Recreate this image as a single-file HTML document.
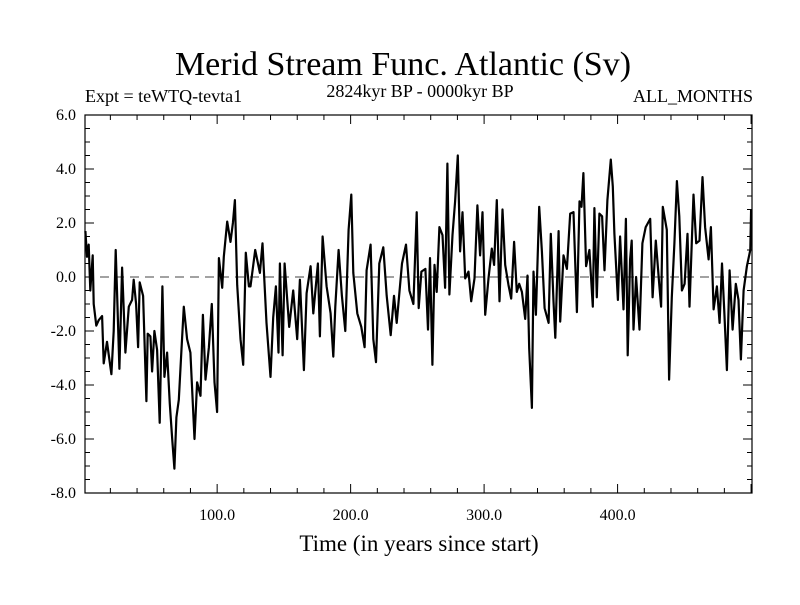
<!DOCTYPE html>
<html><head><meta charset="utf-8"><style>
body{margin:0;background:#fff}
svg text{font-family:"Liberation Serif",serif;fill:#000}
</style></head><body>
<svg id="chart" width="800" height="600">
<text x="403" y="75" font-size="34" text-anchor="middle">Merid Stream Func. Atlantic (Sv)</text>
<text x="85" y="102" font-size="18">Expt = teWTQ-tevta1</text>
<text x="420" y="97" font-size="18" text-anchor="middle">2824kyr BP - 0000kyr BP</text>
<text x="753" y="102" font-size="18" text-anchor="end">ALL_MONTHS</text>
<text x="419" y="551" font-size="23" text-anchor="middle">Time (in years since start)</text>
<g id="axes"></g>
<g id="series"></g>
</svg>
<script>
const years=[1.3,2.5,3.8,5,6.8,7.5,9.5,11.3,13.8,15,17.5,18.8,20.8,22.5,24,25,26.8,28.8,31.3,33.8,36.3,37.5,39.3,40.8,42,44.5,47,48,50,51.3,53,55,57,59,60.5,62.5,64.5,66.3,68,69.5,71.3,73,75,77.5,80,83,85,87.5,89.3,91.3,93.8,96,98,100,101.3,103.8,105,107.5,110,111.8,113.3,115,117.5,119.5,121.5,123.8,
125,128.5,132,134,137,140,142,144,146,147,149,150.5,154,157,160,162,165,167,170,172,175.5,177,179,182,185,187,188.5,191,193.5,196,198.5,200.5,202,205,208,210.5,212,215,217,219,221.5,224.5,227,230,232.5,234.5,238.5,241.5,244,247,
249.5,251,253,256,258,259.5,261.3,262.8,264.5,266.5,268.8,270.8,272.5,274,276.3,278.3,280.3,282,283.8,285.8,288.3,290.3,292.8,295,297,298.8,300.8,303.3,305.8,307.5,309.5,311.5,313.8,315.8,318.3,320.3,322.5,324.5,326.3,328.3,330.8,332.5,333.8,335.8,337,338.8,341.3,343.3,345.3,348.3,350,352,353.3,355.8,357,359.5,362,364.5,367,369.5,371.5,
373,374.4,376.4,378.9,381.4,382.6,384.4,386.4,388.4,390.2,392.4,394.9,396.4,397.6,400.2,401.9,404.4,406.2,407.6,409.4,410.6,411.9,413.9,416.4,418.6,421.1,424.4,426.2,428.6,431.2,432.6,433.9,436.9,438.6,440.6,442.6,444.4,446.2,448.2,450.2,452.4,453.9,456.9,458.9,461.4,463.6,465.6,468.2,469.9,471.9,474.4,476.4,478.2,479.9,481.9,483.9,486.2,488.6,490.6,492.4,494.4,496.9,499.4,500];
const values=[1.7,0.75,1.2,-0.5,0.8,-1,-1.8,-1.6,-1.45,-3.2,-2.4,-2.9,-3.6,-2,1,-0.5,-3.4,0.35,-2.8,-1.1,-0.85,-0.1,-1,-2.6,-0.2,-0.7,-4.6,-2.1,-2.2,-3.5,-2,-2.7,-5.4,-0.35,-3.7,-2.8,-4.7,-6,-7.1,-5.2,-4.55,-2.95,-1.1,-2.3,-2.8,-6,-3.9,-4.4,-1.4,-3.8,-2.6,-1,-3.9,-5,0.7,-0.4,0.75,2.05,1.3,2,2.85,-0.3,-2.3,-3.25,0.9,-0.35,
-0.35,1.0,0.15,1.25,-1.7,-3.7,-1.5,-0.35,-2.8,0.5,-2.9,0.5,-1.85,-0.5,-2.3,-0.1,-3.45,-0.6,0.4,-1.35,0.5,-2.2,1.5,-0.35,-1.35,-2.95,-1.1,1.0,-0.7,-2.0,1.75,3.05,0.15,-1.35,-1.85,-2.6,0.25,1.2,-2.3,-3.15,0.5,1.1,-0.7,-2.15,-0.7,-1.7,0.5,1.2,-0.5,-1.0,
2.4,-1.15,0.2,0.3,-1.95,0.7,-3.25,0.45,-0.55,1.85,1.55,-0.4,4.2,-0.65,1.55,2.8,4.5,0.95,2.4,-0.05,0.2,-0.9,-0.05,2.65,0.8,2.4,-1.4,-0.05,1.05,0.45,2.85,-0.9,2.5,0.45,-0.3,-0.8,1.3,-0.55,-0.25,-0.55,-1.55,0.05,-2.65,-4.85,0.2,-1.4,2.6,0.95,-1.15,-1.7,1.6,-0.9,-2.25,1.7,-1.65,0.8,0.3,2.35,2.4,-1.3,2.8,
2.6,3.85,0.4,1.0,-1.1,2.55,-0.75,2.35,2.25,0.25,2.85,4.35,3.35,1.6,-0.85,1.5,-1.2,2.15,-2.9,0.65,1.35,-1.95,0,-1.95,1.25,1.85,2.15,-0.75,1.35,-0.25,-1.1,2.6,1.75,-3.8,-0.75,1.25,3.55,2.25,-0.5,-0.25,1.6,-1.1,3.05,1.25,1.35,3.7,1.85,0.65,1.85,-1.2,-0.35,-1.7,0.5,-1.2,-3.45,0.25,-1.95,-0.25,-0.85,-3.05,-0.5,0.4,1.0,2.5];
const yTicks=[6,4,2,0,-2,-4,-6,-8];
const xTicks=[100,200,300,400];
const L=85,R=752,T=115,B=493,X0=1,X1=500.7,Y0=-8,Y1=6;
const sx=v=>L+(v-X0)/(X1-X0)*(R-L);
const sy=v=>B-(v-Y0)/(Y1-Y0)*(B-T);
const NS='http://www.w3.org/2000/svg';
const ax=document.getElementById('axes'),sg=document.getElementById('series');
function mk(tag,attrs,parent){const e=document.createElementNS(NS,tag);for(const k in attrs)e.setAttribute(k,attrs[k]);parent.appendChild(e);return e;}
const frame=mk('rect',{x:L,y:T,width:R-L,height:B-T,fill:'none',stroke:'#000','stroke-width':1.2},ax);


const zl=mk('line',{x1:L,x2:R,y1:sy(0),y2:sy(0),stroke:'#444','stroke-dasharray':'9,6','stroke-width':1},ax);


for(let v=-8;v<=6.001;v+=0.5){const y=sy(v);const major=Math.abs(v/2-Math.round(v/2))<1e-6;const len=major?9:5;
 mk('line',{x1:L,x2:L+len,y1:y,y2:y,stroke:'#000'},ax);mk('line',{x1:R-len,x2:R,y1:y,y2:y,stroke:'#000'},ax);}
for(let v=20;v<=500;v+=20){const x=sx(v);const major=v%100===0;const len=major?9:5;
 mk('line',{x1:x,x2:x,y1:B-len,y2:B,stroke:'#000'},ax);mk('line',{x1:x,x2:x,y1:T,y2:T+len,stroke:'#000'},ax);}
yTicks.forEach(v=>{const t=mk('text',{x:L-9,y:sy(v)+5,'font-size':16,'text-anchor':'end'},ax);t.textContent=v.toFixed(1);
 
 });
xTicks.forEach(v=>{const t=mk('text',{x:sx(v),y:B+27,'font-size':16,'text-anchor':'middle'},ax);t.textContent=v.toFixed(1);
 
 });
const n=Math.min(years.length,values.length);
let d='';for(let i=0;i<n;i++){d+=(i?'L':'M')+sx(years[i]).toFixed(1)+','+sy(values[i]).toFixed(1);}
const p=mk('path',{d:d,fill:'none',stroke:'#000','stroke-width':2.2,'stroke-linejoin':'round'},sg);


</script>
</body></html>
